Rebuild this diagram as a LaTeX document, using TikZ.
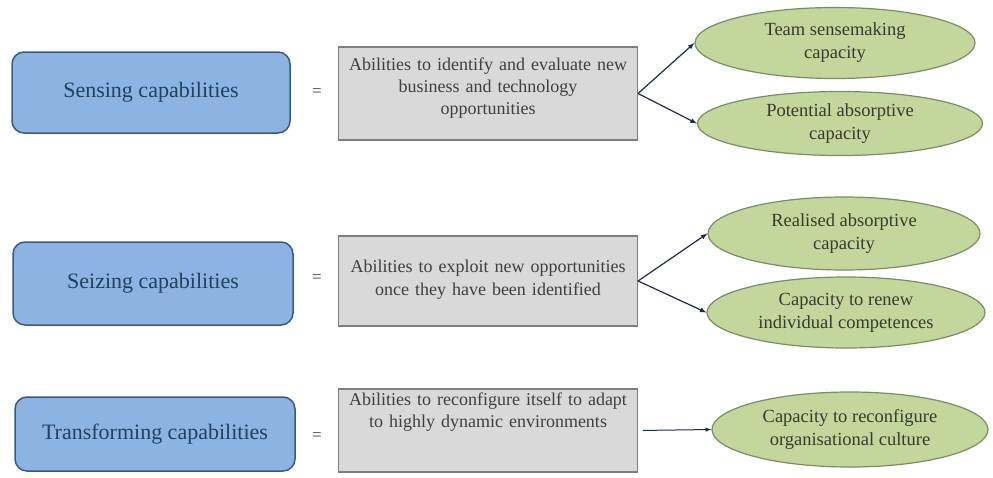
\documentclass[tikz,border=0pt]{standalone}
\usepackage{fontspec}
\setmainfont{Liberation Serif}
\usetikzlibrary{shapes.geometric,arrows}
\definecolor{capfill}{HTML}{8DB3E2}
\definecolor{capline}{HTML}{3A5A84}
\definecolor{captext}{HTML}{243F60}
\definecolor{abfill}{HTML}{D9D9D9}
\definecolor{abline}{HTML}{7F7F7F}
\definecolor{abtext}{HTML}{3F3F3F}
\definecolor{effill}{HTML}{C3D69B}
\definecolor{efline}{HTML}{7F8A66}
\definecolor{eftext}{HTML}{3A3A2C}
\definecolor{linkcol}{HTML}{1F2A44}
\begin{document}
\begin{tikzpicture}[x=1pt,y=-1pt]

    \tikzset{
      capbox/.style={
        draw=capline,
        fill=capfill,
        line width=1.5pt,
        rounded corners=12pt,
        minimum width=278pt,
        text=captext,
        font=\fontsize{22}{26}\selectfont,
      },
      abbox/.style={
        draw=abline,
        fill=abfill,
        line width=1.4pt,
        minimum width=298pt,
        text width=292pt,
        align=center,
        text=abtext,
        font=\fontsize{18}{22}\selectfont,
      },
      effect/.style={
        draw=efline,
        fill=effill,
        line width=1.2pt,
        ellipse,
        inner sep=0pt,
        text=eftext,
        align=center,
        font=\fontsize{18.5}{23}\selectfont,
      },
      equal/.style={
        text=abtext,
        font=\fontsize{17}{20}\selectfont,
      },
    }
    \useasboundingbox (0,0) rectangle (993,477);

	% capabilities
	\node[capbox,minimum height=81pt] (sense) at (151,92.5) {Sensing capabilities};
	\node[capbox,minimum height=83pt,minimum width=280pt] (seize) at (153,283.5) {Seizing capabilities};
	\node[capbox,minimum height=74pt,minimum width=280pt] (transform) at (155,434) {Transforming capabilities};

	\node[equal] (eq1) at (317,93) {=};
	\node[equal] (eq2) at (317,279) {=};
	\node[equal] (eq3) at (317,437) {=};

	% abilities
	\node[abbox,minimum height=93pt,text depth=59.5pt] (ab1) at (488,93.5) {Abilities to identify and evaluate new\\business and technology\\opportunities};
	\node[abbox,minimum height=90pt,text depth=28.5pt] (ab2) at (488,281) {Abilities to exploit new opportunities\\once they have been identified};
	\node[abbox,minimum height=83pt,text depth=63.5pt] (ab3) at (488,430.5) {Abilities to reconfigure itself to adapt\\to highly dynamic environments};

	% effects
	\node[effect,minimum width=280pt,minimum height=71pt] (team) at (835,43) {Team sensemaking\\capacity};
	\node[effect,minimum width=285pt,minimum height=64pt] (potential) at (840,123.5) {Potential absorptive\\capacity};
	\node[effect,minimum width=272pt,minimum height=73pt] (realised) at (844,233.5) {Realised absorptive\\capacity};
	\node[effect,minimum width=278pt,minimum height=71pt] (renew) at (846,312.5) {Capacity to renew\\individual competences};
	\node[effect,minimum width=276pt,minimum height=75pt] (culture) at (850,429.5) {Capacity to reconfigure\\organisational culture};

	\draw[color=linkcol,line width=1.2pt,>=latex,->] (ab1.east)--(team.west);
	\draw[color=linkcol,line width=1.2pt,>=latex,->] (ab1.east)--(potential.west);
	\draw[color=linkcol,line width=1.2pt,>=latex,->] (ab2.east)--(realised.west);
	\draw[color=linkcol,line width=1.2pt,>=latex,->] (ab2.east)--(renew.west);
	\draw[color=linkcol,line width=1pt,>=latex,->,shorten <=5pt] (ab3.east)--(culture.west);

\end{tikzpicture}
\end{document}
